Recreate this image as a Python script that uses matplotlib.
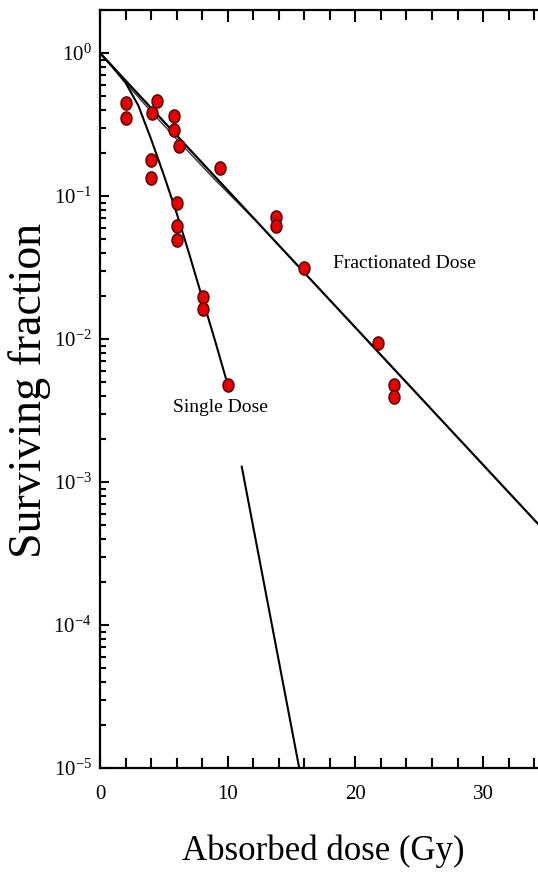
import numpy as np
import matplotlib
matplotlib.use('Agg')
import matplotlib.pyplot as plt
from matplotlib.ticker import LogLocator, FixedLocator, NullFormatter

plt.rcParams['font.family'] = ['Liberation Serif', 'DejaVu Serif']
plt.rcParams['mathtext.fontset'] = 'stix'

# measured survival points (dose in Gy, surviving fraction)
dose_pts = [2.0, 2.0, 4.5, 4.1, 5.8, 5.8, 6.2, 4.0, 4.0, 9.4, 6.0, 6.0, 6.0,
            13.8, 13.8, 8.1, 8.1, 10.0, 16.0, 21.8, 23.0, 23.0]
sf_pts = [0.45, 0.353, 0.46, 0.38, 0.36, 0.29, 0.224, 0.179, 0.134, 0.158,
          0.089, 0.062, 0.049, 0.0717, 0.0617, 0.0198, 0.0162, 0.0048,
          0.0312, 0.0094, 0.0048, 0.00395]

# single dose curve
single_dose = [0, 1, 2, 3, 4, 5, 6, 7, 8, 9, 10]
single_sf = [1.0, 0.80, 0.62, 0.43, 0.25, 0.14, 0.076, 0.039, 0.0195, 0.0098, 0.0048]

# steep tail segment of the single dose curve
tail_dose = [11.1, 15.6]
tail_sf = [1.28e-3, 1.0e-5]

# fractionated dose line
frac_dose = [0.0, 36.0]
frac_sf = [1.0, 3.5e-4]

# second, nearly coincident fractionated curve near the origin
frac2_dose = [0.0, 2.0, 4.0, 6.0, 9.0, 12.0]
frac2_sf = [1.0, 0.62, 0.39, 0.25, 0.13, 0.07]

x_major = [0, 10, 20, 30]
x_minor = [2, 4, 6, 8, 12, 14, 16, 18, 22, 24, 26, 28, 32, 34]

fig = plt.figure(figsize=(5.38, 8.76), dpi=100)
W, H = 538.0, 876.0
px_per_gy = 12.77
xmax = 35
ax = fig.add_axes([100 / W, 1 - 768 / H, xmax * px_per_gy / W, 758 / H])

t = np.linspace(0, 2 * np.pi, 40)
ell = np.column_stack([np.cos(t), 1.2 * np.sin(t)])

ax.plot(frac2_dose, frac2_sf, color='#333333', lw=1.0)
ax.plot(frac_dose, frac_sf, color='black', lw=1.6)
ax.plot(single_dose, single_sf, color='black', lw=1.5)
ax.plot(tail_dose, tail_sf, color='black', lw=1.5)
ax.plot(dose_pts, sf_pts, linestyle='none', marker=ell, markersize=9.5,
        markerfacecolor='#e60000', markeredgecolor='#4a0000', markeredgewidth=1.0)

ax.set_yscale('log')
ax.set_xlim(0, xmax)
ax.set_ylim(1e-5, 2.0)

ax.xaxis.set_major_locator(FixedLocator(x_major))
ax.xaxis.set_minor_locator(FixedLocator(x_minor))
ax.yaxis.set_major_locator(LogLocator(base=10, numticks=10))
ax.yaxis.set_minor_locator(LogLocator(base=10, subs=np.arange(2, 10), numticks=10))
ax.yaxis.set_minor_formatter(NullFormatter())

ax.tick_params(axis='x', which='major', direction='in', length=8.5, width=1.5,
               top=True, labelsize=15, pad=12)
ax.tick_params(axis='x', which='minor', direction='in', length=7, width=1.5, top=True)
ax.tick_params(axis='y', which='major', direction='in', length=6.5, width=1.5,
               labelsize=15, pad=6)
ax.tick_params(axis='y', which='minor', direction='in', length=4.5, width=1.5)

for s in ax.spines.values():
    s.set_linewidth(1.6)

ax.text(18.25, 0.034, 'Fractionated Dose', fontsize=14, ha='left', va='center')
ax.text(5.72, 0.00334, 'Single Dose', fontsize=14, ha='left', va='center')

fig.text(30 / W, 1 - 390 / H, 'Surviving fraction', rotation=90, fontsize=33,
         ha='center', va='center')
fig.text(323 / W, 1 - 851 / H, 'Absorbed dose (Gy)', fontsize=25,
         ha='center', va='center')

fig.savefig('out.png', dpi=100)
